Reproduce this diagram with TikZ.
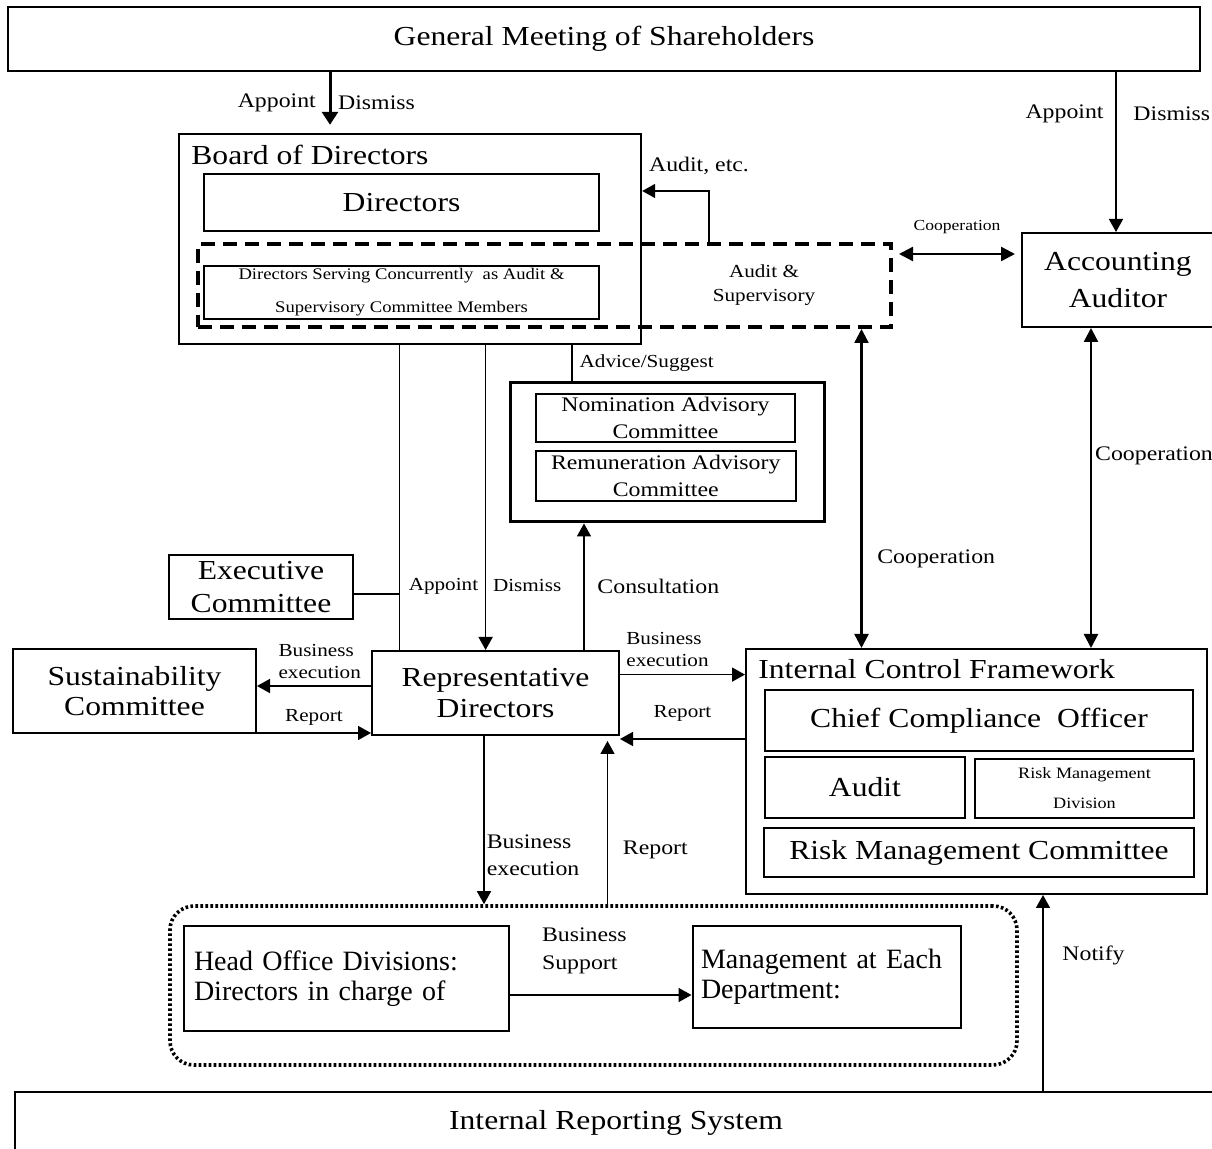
\documentclass[tikz,border=0pt]{standalone}
\usepackage{fontspec}
\setmainfont{Liberation Serif}[FakeStretch=1.15]
\newfontfamily\narrowrm{Liberation Serif}
\usetikzlibrary{arrows.meta}

\begin{document}
\begin{tikzpicture}[x=0.5pt,y=-0.5pt,
  box/.style={draw,line width=1pt,inner sep=0pt,align=center},
  bigtxt/.style={font={\fontsize{13.75}{16.5}\selectfont}},
  midtxt/.style={font={\fontsize{10.35}{13.5}\selectfont}},
  smltxt/.style={font={\fontsize{9.2}{11}\selectfont}},
  tinytxt/.style={font={\fontsize{7.65}{16.5}\selectfont}},
  arr/.style={line width=0.8pt,-{Triangle[length=6.5pt,width=7pt]}},
  twoway/.style={line width=1.2pt,{Triangle[length=7pt,width=7pt]}-{Triangle[length=7pt,width=7pt]}}]
\useasboundingbox (0,0) rectangle (1212,1149);

\node[box,bigtxt,minimum width=596pt,minimum height=32pt] (gm) at (604,39) {General Meeting of Shareholders};
\node[box,line width=1.2pt,minimum width=231pt,minimum height=105pt] (board) at (410,239) {};
\node[bigtxt,anchor=base west,inner sep=0pt] (boardlbl) at (191,165) {Board of Directors};
\node[box,bigtxt,minimum width=197.5pt,minimum height=28.5pt] (dirs) at (401.5,202.5) {Directors};
\node[box,font={\fontsize{8.1}{16.5}\selectfont},minimum width=197.5pt,minimum height=26.5pt] (dsc) at (401.5,292.5)
  {Directors Serving Concurrently\ \ as Audit \&\\Supervisory Committee Members};
\node[draw,line width=2pt,dash pattern=on 7pt off 4pt,inner sep=0pt,
  minimum width=346.5pt,minimum height=41.5pt] (acsc) at (544.5,285.5) {};
\node[smltxt,align=center,font={\fontsize{9.2}{12}\selectfont}] (aslbl) at (764,285) {Audit \&\\Supervisory};
\node[box,font={\fontsize{13.75}{18.3}\selectfont},minimum width=96pt,minimum height=47pt] (aa) at (1118,280) {Accounting\\Auditor};

\node[box,line width=1.5pt,minimum width=157pt,minimum height=69.5pt] (adv) at (667,452.5) {};
\node[box,midtxt,minimum width=129.5pt,minimum height=24pt] (nom) at (665.5,418) {Nomination Advisory\\Committee};
\node[box,midtxt,minimum width=129.75pt,minimum height=25pt] (rem) at (665.75,476) {Remuneration Advisory\\Committee};

\node[box,bigtxt,minimum width=92pt,minimum height=32pt] (exec) at (261,587) {Executive\\Committee};
\node[box,font={\fontsize{13.75}{15}\selectfont},minimum width=121.5pt,minimum height=42pt] (sus) at (134.5,691) {Sustainability\\Committee};
\node[box,font={\fontsize{13.75}{15.8}\selectfont},minimum width=123.5pt,minimum height=42pt] (rep) at (495.5,693) {Representative\\Directors};

\node[box,minimum width=230.5pt,minimum height=122.5pt] (icf) at (976.5,771.5) {};
\node[bigtxt,anchor=base west,inner sep=0pt] (icflbl) at (758,679) {Internal Control Framework};
\node[box,bigtxt,minimum width=214pt,minimum height=30.5pt] (cco) at (979,720.5) {Chief Compliance\ \ Officer};
\node[box,bigtxt,minimum width=100pt,minimum height=30.5pt] (aud) at (865,787.5) {Audit};
\node[box,font={\fontsize{7.9}{15}\selectfont},minimum width=109.5pt,minimum height=29.5pt] (rmd) at (1084.5,788.5) {Risk Management\\Division};
\node[box,bigtxt,minimum width=215pt,minimum height=24.5pt] (rmc) at (979,852.5) {Risk Management Committee};

\node[draw,line width=1.8pt,dash pattern=on 1.3pt off 1.2pt,rounded corners=12pt,inner sep=0pt,
  minimum width=423.5pt,minimum height=79.5pt] (grp) at (593.5,985.5) {};
\node[box,align=left,font={\narrowrm\fontsize{14}{15}\selectfont},inner xsep=5pt,text width=152.5pt,
  minimum height=52.5pt] (ho) at (346.5,978.5) {Head Office Divisions:\\Directors in charge of};
\node[box,align=left,font={\narrowrm\fontsize{14}{15}\selectfont},inner xsep=4.25pt,text width=125.75pt,
  minimum height=51pt] (mg) at (826.75,977) {Management at Each\\Department:};
\node[box,bigtxt,minimum width=601pt,minimum height=31pt] (irs) at (616,1123) {Internal Reporting System};

\coordinate (c1) at (330,0);
\draw[line width=1.5pt,-{Triangle[length=6.5pt,width=8pt]},shorten >=4pt] (gm.south -| c1)
  -- node[left=3pt,midtxt]{Appoint} node[right,midtxt]{Dismiss} (board.north -| c1);

\coordinate (c2) at (709,191);
\draw[arr] (acsc.north -| c2) |- (board.east |- c2);
\node[midtxt] (auditlbl) at (699,166) {Audit, etc.};

\coordinate (c3) at (0,254);
\draw[twoway,shorten <=3pt,shorten >=3pt] (acsc.east |- c3)
  -- node[above=6pt,tinytxt]{Cooperation} (aa.west |- c3);

\coordinate (c4) at (1116,0);
\draw[arr] (gm.south -| c4) -- node[pos=0.26,left=2.5pt,midtxt]{Appoint}
  node[pos=0.26,right=5pt,midtxt]{Dismiss} (aa.north -| c4);

\coordinate (c5) at (861.5,0);
\draw[twoway] (acsc.south -| c5) -- node[pos=0.72,right=4pt,midtxt]{Cooperation} (icf.north -| c5);

\coordinate (c6) at (1091,0);
\draw[twoway] (aa.south -| c6) -- node[pos=0.4,right,inner xsep=1.5pt,midtxt]{Cooperation} (icf.north -| c6);

\coordinate (c7) at (399.4,0);
\draw[line width=0.8pt] (board.south -| c7) -- (rep.north -| c7);
\coordinate (c8) at (399.4,594);
\draw[line width=0.8pt] (exec.east |- c8) -- (c8);

\coordinate (c9) at (485.6,0);
\draw[arr] (board.south -| c9) -- node[pos=0.79,left,smltxt]{Appoint}
  node[pos=0.79,right,smltxt]{Dismiss} (rep.north -| c9);

\coordinate (c10) at (572,0);
\draw[line width=1pt] (board.south -| c10) -- node[right,smltxt]{Advice/Suggest} (adv.north -| c10);

\coordinate (c11) at (584,0);
\draw[arr] (rep.north -| c11) -- node[right=3pt,midtxt]{Consultation} (adv.south -| c11);

\coordinate (c12) at (0,686);
\draw[arr] (rep.west |- c12) -- node[pos=0.45,above,smltxt,align=left]{Business\\execution} (sus.east |- c12);
\coordinate (c13) at (0,733);
\draw[arr] (sus.east |- c13) -- node[above,smltxt]{Report} (rep.west |- c13);

\coordinate (c14) at (0,674.6);
\draw[arr] (rep.east |- c14) -- node[pos=0.38,above,smltxt,align=left]{Business\\execution} (icf.west |- c14);
\coordinate (c15) at (0,739);
\draw[arr] (icf.west |- c15) -- node[above=5pt,smltxt]{Report} (rep.east |- c15);

\coordinate (c16) at (484,0);
\draw[arr] (rep.south -| c16) -- node[pos=0.71,right,inner sep=1pt,midtxt,align=left]{Business\\execution} (grp.north -| c16);
\coordinate (c17) at (607.5,0);
\draw[arr,shorten >=2.5pt] (grp.north -| c17) -- node[pos=0.32,right=4pt,midtxt]{Report} (rep.south -| c17);

\coordinate (c18) at (0,995);
\draw[arr] (ho.east |- c18) -- node[pos=0.41,above=7pt,align=left,font={\fontsize{10.35}{14}\selectfont}]{Business\\Support} (mg.west |- c18);

\coordinate (c19) at (1043,0);
\draw[arr] (irs.north -| c19) -- node[pos=0.69,right=6pt,midtxt]{Notify} (icf.south -| c19);
\end{tikzpicture}
\end{document}
